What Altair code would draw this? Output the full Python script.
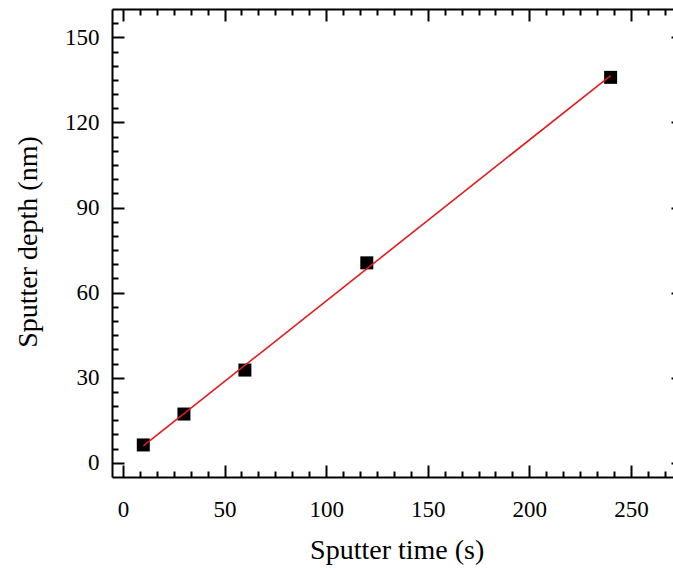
import altair as alt
import pandas as pd

# data
time_s = [10, 30, 60, 120, 240]
depth_nm = [6.3, 17.2, 32.7, 70.5, 135.9]

# tick positions
x_major = [0, 50, 100, 150, 200, 250]
y_major = [0, 30, 60, 90, 120, 150]
x_minor = [round(k * 50 / 6, 4) for k in range(1, 33) if k % 6]
y_minor = [v for v in range(5, 160, 5) if v % 30]

X_DOMAIN = [-5.4, 270.7]
Y_DOMAIN = [-5, 160]

FONT = "Liberation Serif"

df = pd.DataFrame({"time": time_s, "depth": depth_nm})
xs = alt.Scale(domain=X_DOMAIN, nice=False, zero=False)
ys = alt.Scale(domain=Y_DOMAIN, nice=False, zero=False)
base = alt.Chart(df)


def x_layer(axis):
    return base.mark_point(opacity=0).encode(
        x=alt.X("time:Q", scale=xs, axis=axis),
        y=alt.Y("depth:Q", scale=ys, axis=None),
    )


def y_layer(axis):
    return base.mark_point(opacity=0).encode(
        x=alt.X("time:Q", scale=xs, axis=None),
        y=alt.Y("depth:Q", scale=ys, axis=axis),
    )


layers = [
    # spines
    y_layer(alt.Axis(orient="left", offset=0, domain=True, ticks=False, labels=False,
                     title="Sputter depth (nm)", titleAngle=270, titleX=-76, titleY=232.5,
                     titleAlign="center", titleBaseline="alphabetic")),
    x_layer(alt.Axis(orient="bottom", offset=0, domain=True, ticks=False, labels=False,
                     title="Sputter time (s)", titleX=284.7, titleY=81.3,
                     titleAlign="center", titleBaseline="alphabetic")),
    x_layer(alt.Axis(orient="top", offset=0, domain=True, ticks=False, labels=False, title=None)),
    # left ticks
    y_layer(alt.Axis(orient="left", offset=-12, domain=False, values=y_major, tickSize=12,
                     labelPadding=13, title=None)),
    y_layer(alt.Axis(orient="left", offset=-6, domain=False, values=y_minor, tickSize=6,
                     labels=False, title=None)),
    # right ticks
    y_layer(alt.Axis(orient="right", offset=-2, domain=False, values=y_major, tickSize=12,
                     labels=False, title=None)),
    # bottom ticks
    x_layer(alt.Axis(orient="bottom", offset=-12, domain=False, values=x_major, tickSize=12,
                     labelPadding=39.5, labelBaseline="alphabetic", title=None)),
    x_layer(alt.Axis(orient="bottom", offset=-6, domain=False, values=x_minor, tickSize=6,
                     labels=False, title=None)),
    # top ticks
    x_layer(alt.Axis(orient="top", offset=-12, domain=False, values=x_major, tickSize=12,
                     labels=False, title=None)),
    x_layer(alt.Axis(orient="top", offset=-6, domain=False, values=x_minor, tickSize=6,
                     labels=False, title=None)),
]

points = base.mark_point(shape="square", size=169, filled=True, color="black", opacity=1).encode(
    x=alt.X("time:Q", scale=xs, axis=None),
    y=alt.Y("depth:Q", scale=ys, axis=None),
)

fit = base.transform_regression("time", "depth", extent=[10, 240]).mark_line(
    color="#e31a1c", strokeWidth=1.6
).encode(
    x=alt.X("time:Q", scale=xs, axis=None),
    y=alt.Y("depth:Q", scale=ys, axis=None),
)

chart = alt.layer(*layers, points, fit).resolve_axis(
    x="independent", y="independent"
).properties(
    width=561,
    height=468,
    autosize=alt.AutoSizeParams(type="none"),
    padding={"left": 112, "top": 9, "right": 0, "bottom": 94},
    background="white",
).configure_axis(
    grid=False,
    labelFont=FONT,
    labelFontSize=23,
    labelColor="black",
    labelFlush=False,
    tickColor="black",
    tickWidth=2,
    domainColor="black",
    domainWidth=2,
    titleFont=FONT,
    titleFontSize=28,
    titleFontWeight="normal",
    titleColor="black",
).configure_view(strokeWidth=0)

chart.save("out.html", embed_options={"renderer": "svg", "actions": False})
